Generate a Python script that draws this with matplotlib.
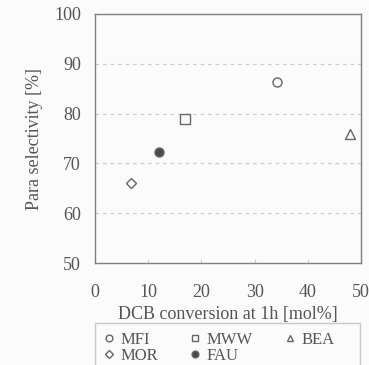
import matplotlib
matplotlib.use("Agg")
import matplotlib.pyplot as plt
from matplotlib.patches import Rectangle

names = ["MFI", "MWW", "BEA", "MOR", "FAU"]
conversion = [34.3, 16.9, 47.9, 6.8, 12.0]
selectivity = [86.3, 78.9, 76.0, 66.1, 72.2]
markers = ["o", "s", "^", "D", "o"]
filled = [False, False, False, False, True]
xticks = [0, 10, 20, 30, 40, 50]
yticks = [50, 60, 70, 80, 90, 100]

plt.rcParams['font.family'] = ['Liberation Serif', 'DejaVu Serif']
tc = '#555555'
fs = 13
W, H = 369, 365
fig = plt.figure(figsize=(W/100, H/100), dpi=100, facecolor='#fbfbfb')
ax = fig.add_axes([95/W, 1-263/H, 266/W, 249/H])
ax.set_facecolor('#fbfbfb')
ax.set_xlim(0, 50)
ax.set_ylim(50, 100)
ax.set_xticks(xticks)
ax.set_yticks(yticks)
ax.tick_params(axis='x', direction='in', length=3, colors='#cccccc', labelcolor=tc, labelsize=fs, pad=15)
ax.tick_params(axis='y', length=0, labelcolor=tc, labelsize=fs, pad=10)
for y in yticks[1:-1]:
    ax.axhline(y, color='#cccccc', lw=0.9, ls=(0, (3, 3)), zorder=0)
for s in ax.spines.values():
    s.set_color('#808080')
    s.set_linewidth(1.0)
ax.set_xlabel('DCB conversion at 1h [mol%]', color=tc, fontsize=fs, labelpad=4)
ax.set_ylabel('Para selectivity [%]', color=tc, fontsize=fs, labelpad=8)

handles = {}
for n, x, y, m, f in zip(names, conversion, selectivity, markers, filled):
    ms = 6.5 if m != 'D' else 5.2
    h, = ax.plot([x], [y], ls='none', marker=m, ms=ms, mec='#666666', mew=1.0,
                 mfc='#4a4a4a' if f else 'none', label=n)
    handles[n] = h

# legend box
fig.patches.append(Rectangle((95/W, -0.05), 265/W, 0.05 + 1 - 323/H, transform=fig.transFigure,
                             fill=False, edgecolor='#c8c8c8', lw=1.0))
order = ["MFI", "MOR", "MWW", "FAU", "BEA"]
leg = fig.legend(handles=[handles[n] for n in order], loc='upper left', ncol=3,
                 bbox_to_anchor=(104/W, 1-332/H),
                 frameon=False, fontsize=12, handlelength=0.6, handletextpad=0.4,
                 borderpad=0.0, labelspacing=0.0, columnspacing=1.9, labelcolor=tc,
                 borderaxespad=0, markerscale=0.75)
fig.savefig('out.png', dpi=100, facecolor=fig.get_facecolor())
